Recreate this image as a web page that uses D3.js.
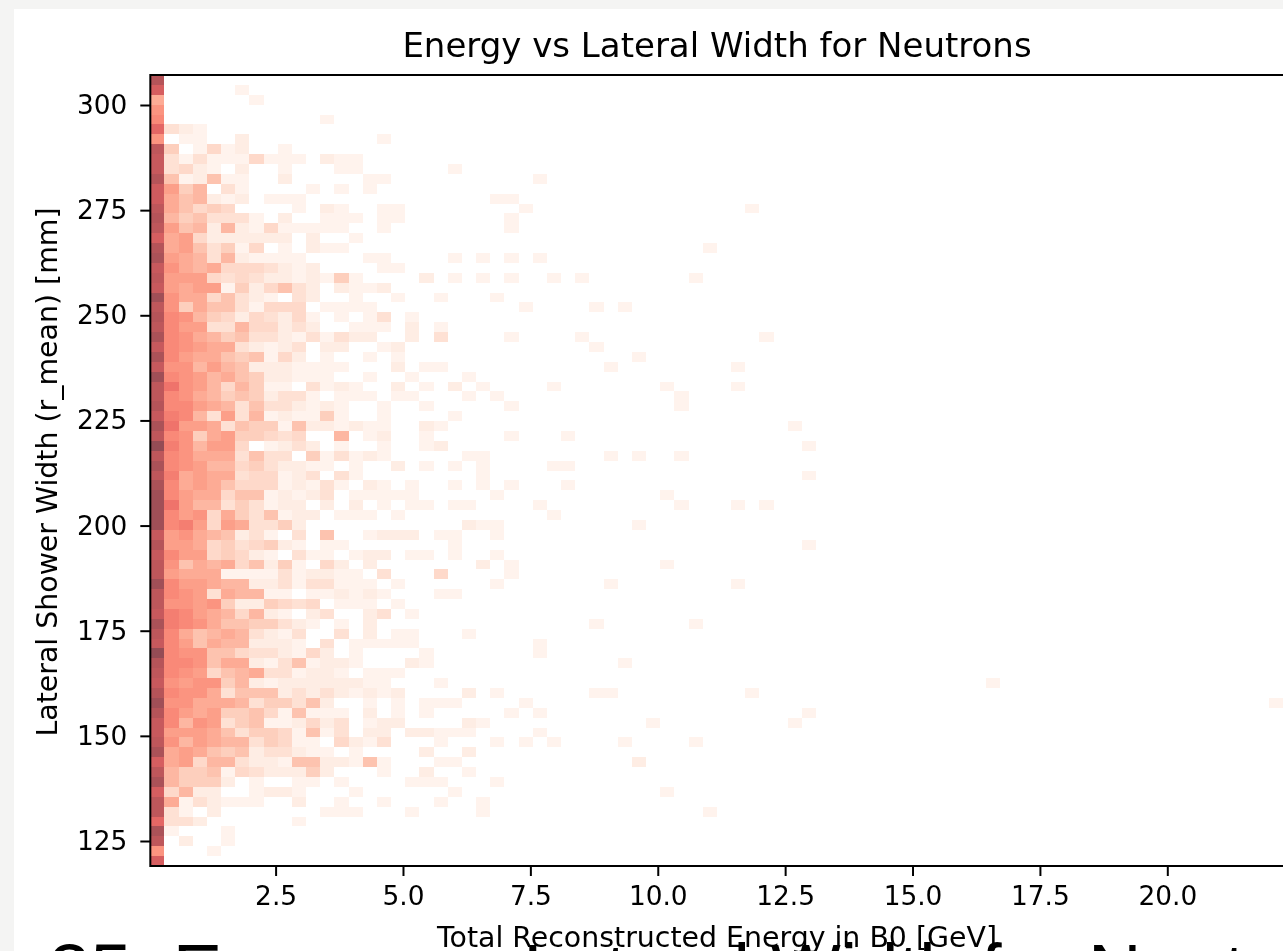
<!DOCTYPE html>
<html>
<head>
<meta charset="utf-8">
<title>Energy vs Lateral Width for Neutrons</title>
<script src="https://d3js.org/d3.v7.min.js"></script>
<style>
    html, body { margin: 0; padding: 0; overflow: hidden; background: #f4f4f3; }
    svg { display: block; }
    text { font-family: "DejaVu Sans", sans-serif; fill: #000; }
</style>
</head>
<body>
<div id="chart-container"></div>
<script>
// bin edges of the histogram, lower edge of first bin and bin size
const energyStart = 0.0412;
const energyBinSize = 0.278;
const widthTop = 307.13;
const widthBinSize = 2.351;

// count to position on the colour ramp
const countStops = [0, 1, 2, 5, 10, 14, 25];
const rampStops = [0, 0.04, 0.09, 0.2, 0.46, 0.64, 1];

const xTicks = [2.5, 5, 7.5, 10, 12.5, 15, 17.5, 20];
const yTicks = [125, 150, 175, 200, 225, 250, 275, 300];

// counts per row (top row first), columns 0 to 20, trailing zeros left out
const rowCounts = [
    [22],
    [18,0,0,0,0,0,1],
    [9,0,0,0,0,0,0,1],
    [11],
    [12,0,0,0,0,0,0,0,0,0,0,0,1],
    [16,4,2,1],
    [11,0,1,1,0,0,2,0,0,0,0,0,0,0,0,0,1],
    [21,6,0,1,5,1,2,0,0,1],
    [20,4,1,4,1,1,1,5,1,1,1,0,2,1,1],
    [20,4,5,2,1,0,2,0,0,1,0,0,0,1,1],
    [22,7,1,2,7,1,1,0,0,2,0,0,0,0,0,1,1],
    [19,10,6,8,0,4,1,0,0,0,0,1,0,1,0,1],
    [19,9,7,8,2,1,2,0,1,1,1],
    [21,9,7,5,6,5,0,0,0,0,1,0,2,1,0,0,1,1],
    [22,8,6,7,4,4,4,1,0,2,0,0,1,1,1,0,1,1],
    [21,10,7,8,2,8,2,1,5,1,1,1,1,1,0,0,1],
    [18,9,10,5,2,2,2,2,2,2,0,2,0,0,1],
    [22,9,10,7,4,6,1,5,0,1,0,2,1,1],
    [23,10,9,8,4,8,2,1,1,1,1,0,0,0,0,1,1],
    [20,11,9,8,9,5,5,5,4,2,1,2,0,0,0,0,1,1],
    [21,10,10,10,5,4,5,4,2,2,1,2,1,6,1,0,0,0,0,2],
    [20,10,9,10,10,1,6,2,5,7,4,2,0,2,1,1,2],
    [24,11,9,9,5,7,4,2,1,0,4,2,0,0,1,0,0,1,0,0,1],
    [21,11,6,9,7,7,4,1,5,5,5,0,1,1,1,1],
    [22,12,11,8,6,5,2,5,4,2,5,1,0,1,0,1,4,0,1],
    [21,12,10,10,4,4,8,5,5,2,4,2,0,0,1,1,1,0,2,0,1],
    [23,12,11,9,8,6,7,4,4,2,1,4,1,4,2,2,0,0,2,0,4],
    [20,12,11,10,9,9,4,2,1,2,4,0,2,2,0,0,1,2],
    [23,12,10,9,9,7,6,7,1,5,2,0,1,0,0,1,0,1],
    [20,11,11,8,10,8,7,2,2,2,1,1,1,1,0,0,0,2,0,1,1],
    [24,12,11,10,8,9,7,6,2,2,1,1,1,0,0,1,0,0,1],
    [21,14,11,10,8,5,8,6,1,1,0,4,1,2,1,0,0,2,0,1],
    [21,12,11,9,8,6,7,6,2,4,4,1,0,1,1,1,0,1,1],
    [22,12,12,10,9,8,4,7,4,4,2,1,2,1,0,0,1,0,0,1],
    [20,13,12,8,4,10,4,8,1,2,1,1,6,1,0,0,1],
    [23,14,10,10,9,4,7,6,6,1,7,2,2,1,2,1,1,0,0,2,1],
    [21,12,11,6,9,10,6,6,5,4,5,0,0,8,0,1,2,0,0,1],
    [25,13,11,8,10,10,5,0,1,2,4,2,0,1,0,0,1,0,0,1,2],
    [21,12,11,9,9,9,4,7,4,4,0,6,1,4,1,2,1],
    [23,12,11,10,8,8,5,6,4,2,2,1,1,0,1,0,0,2,0,1],
    [21,13,9,10,9,9,4,5,5,1,2,4,0,4,1],
    [23,12,9,10,9,7,5,5,5,1,2,1,4,1,0,2,1,0,1],
    [24,12,10,9,9,5,7,7,1,2,1,2,4,0,1,1,1,1,1],
    [24,14,10,8,8,4,6,4,1,2,2,0,2,0,2,0,1,0,1,1],
    [24,12,10,11,5,9,6,4,7,1,2,2,0,1,1,1,0,1],
    [24,12,13,10,5,10,9,4,4,6,2],
    [20,10,11,9,8,7,2,4,1,0,4,0,7,0,0,1,2,2,2,0,1],
    [22,10,10,9,5,6,4,5,6,2,1,0,1,1],
    [20,12,10,10,5,6,5,2,1,0,4,1,1,0,1,2,2,0,1,1],
    [21,11,7,9,8,9,5,7,2,6,1,0,5,2,0,2],
    [21,10,9,9,9,1,1,1,1,4,1,2,2,1,1,0,4,0,0,0,5],
    [24,12,10,10,9,8,8,2,2,4,1,4,4,1,1,1,0,1],
    [21,12,11,10,4,9,8,8,1,1,0,1,1,2,1,2,1,0,0,0,1],
    [21,11,11,10,11,6,2,2,6,5,4,5,0,1,1,1,0,1],
    [20,13,12,10,9,8,5,8,2,1,0,2,4,0,0,2,4,0,1],
    [23,13,12,11,9,7,7,6,6,4,2,1,0,1,0,2],
    [21,12,9,7,8,9,8,4,2,1,4,0,0,4,0,2,0,1,1],
    [20,12,10,7,9,8,8,2,2,2,1,0,4,0,1,1,1,1,1],
    [25,12,11,11,7,7,5,4,4,2,1,5,2,0,1,0,0,0,0,1],
    [22,12,12,11,7,9,9,2,1,4,7,1,2,2,1,0,0,0,2,1],
    [21,12,11,10,5,7,8,9,4,4,1,2,2,1,0,1,1,1],
    [20,11,10,11,11,6,8,2,1,2,2,2,2,2,2,1,1,0,0,0,1],
    [22,12,11,11,9,4,7,7,7,2,4,2,4,2,1,2,1,2],
    [24,11,11,9,9,9,8,4,6,6,4,7,2,0,0,1,0,1,0,1,1],
    [22,12,10,9,10,6,6,7,5,1,7,1,1,1,0,2,0,1,0,1],
    [20,12,8,11,10,4,6,7,1,1,2,5,2,4,0,1,2,2],
    [20,10,10,10,9,7,4,6,6,5,1,7,1,4,0,2,2,0,2,2,1],
    [21,11,8,10,9,8,8,4,6,5,1,1,0,5,2,1,4,0,0,0,1],
    [23,9,10,9,7,6,7,2,4,4,2,1,1,0,1,0,0,0,0,2],
    [18,9,10,5,8,8,4,2,2,1,7,7,2,2,1,7,1,0,0,0,1],
    [21,8,6,6,7,1,5,4,2,2,2,6,2,0,0,0,1,0,0,2],
    [23,8,6,6,6,2,0,1,0,0,1,1,0,1,0,0,0,0,1,1,1],
    [18,5,8,2,2,0,0,1,2,2,1,0,0,0,1],
    [21,9,1,4,2,1,1,1,0,0,2,0,0,1,0,0,1,0,0,0,1],
    [21,4,1,0,2,0,0,0,0,0,0,0,1,1,1,0,0,0,1],
    [16,4,4,2,0,0,0,0,0,0,1],
    [23,1,0,0,0,1],
    [21,0,2,0,0,1],
    [11,0,0,0,1],
    [18]
];

// the thin tail past column 20, as [column, row, count]
const tailCells = [
    [21,9,1],[27,10,1],[24,12,1],[25,12,1],[26,13,1],[42,13,1],[25,14,1],[25,15,1],[39,17,1],
    [21,18,1],[23,18,1],[25,18,1],[27,18,1],[21,20,1],[23,20,1],[25,20,1],[28,20,1],[30,20,1],[38,20,1],
    [24,22,1],[26,23,1],[31,23,1],[33,23,1],[25,26,1],[30,26,1],[43,26,1],[31,27,1],[34,28,1],
    [32,29,1],[41,29,1],[22,30,1],[21,31,2],[23,31,1],[28,31,1],[36,31,1],[41,31,1],
    [22,32,1],[24,32,1],[37,32,1],[25,33,1],[37,33,1],[21,34,1],[45,35,1],[25,36,1],[29,36,1],[46,37,1],
    [22,38,1],[23,38,1],[32,38,1],[34,38,1],[37,38,1],[21,39,1],[23,39,1],[28,39,1],[29,39,1],
    [23,40,1],[46,40,1],[21,41,1],[23,41,1],[25,41,1],[29,41,1],[24,42,1],[36,42,1],
    [21,43,1],[22,43,1],[27,43,1],[37,43,1],[41,43,1],[43,43,1],[28,44,1],
    [22,45,2],[23,45,1],[24,45,1],[34,45,1],[21,46,1],[24,46,1],[21,47,1],[46,47,1],[21,48,1],[24,48,1],
    [23,49,2],[25,49,1],[36,49,1],[25,50,1],[24,51,1],[32,51,1],[41,51,1],[21,52,1],
    [31,55,1],[38,55,1],[22,56,1],[27,57,1],[27,58,1],[33,59,1],[59,61,1],
    [22,62,2],[24,62,1],[31,62,1],[32,62,1],[42,62,1],[21,63,1],[26,63,1],[79,63,1],
    [25,64,1],[27,64,1],[46,64,1],[22,65,2],[23,65,1],[35,65,1],[45,65,1],[21,66,1],[22,66,1],[27,66,1],
    [24,67,1],[26,67,1],[28,67,1],[33,67,1],[38,67,1],[22,68,2],[21,69,1],[34,69,2],[22,70,1],[24,71,1],
    [21,72,1],[36,72,1],[23,73,1],[23,74,1],[39,74,1]
];

const width = 1283;
const height = 951;

const cells = [];
rowCounts.forEach((row, r) => row.forEach((n, k) => {
    if (n > 0) cells.push({ k: k, r: r, n: n });
}));
tailCells.forEach(d => cells.push({ k: d[0], r: d[1], n: d[2] }));

// scales run past the window on the right, like the cropped original
const x = d3.scaleLinear()
    .domain([2.5, 20])
    .range([275.6, 1167.3]);

const y = d3.scaleLinear()
    .domain([300, 125])
    .range([105, 841]);

const ramp = d3.scaleLinear().domain(countStops).range(rampStops);
const color = n => d3.interpolateReds(ramp(n));

const xEdge = k => x(energyStart + k * energyBinSize);
const yEdge = r => y(widthTop - r * widthBinSize);

const plotLeft = xEdge(0);
const plotTop = yEdge(0);
const plotBottom = yEdge(rowCounts.length);

const svg = d3.select("#chart-container").append("svg")
    .attr("width", width)
    .attr("height", height)
    .attr("viewBox", `0 0 ${width} ${height}`);

// white sheet on the grey page
svg.append("rect")
    .attr("x", 14)
    .attr("y", 9)
    .attr("width", width - 14)
    .attr("height", height - 9)
    .attr("fill", "#fff");

// big heading of the page under the figure, cut off by the window
svg.append("text")
    .attr("x", 49)
    .attr("y", 996)
    .style("font-family", "'Liberation Sans', Arial, sans-serif")
    .style("font-size", "74.2px")
    .style("fill", "#000")
    .text("35. Energy vs Lateral Width for Neutrons");

const chart = svg.append("g").style("filter", "blur(0.7px)");

chart.append("g")
    .attr("shape-rendering", "crispEdges")
    .selectAll("rect")
    .data(cells)
    .join("rect")
    .attr("x", d => xEdge(d.k))
    .attr("y", d => yEdge(d.r))
    .attr("width", d => xEdge(d.k + 1) - xEdge(d.k))
    .attr("height", d => yEdge(d.r + 1) - yEdge(d.r))
    .attr("fill", d => color(d.n))
    .attr("fill-opacity", 0.7);

const xAxis = chart.append("g")
    .attr("transform", `translate(0,${plotBottom})`)
    .call(d3.axisBottom(x).tickValues(xTicks).tickFormat(d3.format(".1f")).tickSize(10).tickPadding(10))
    .call(g => g.select(".domain").remove());

const yAxis = chart.append("g")
    .attr("transform", `translate(${plotLeft},0)`)
    .call(d3.axisLeft(y).tickValues(yTicks).tickSize(10).tickPadding(13))
    .call(g => g.select(".domain").remove());

[xAxis, yAxis].forEach(g => {
    g.selectAll("line").attr("stroke", "#000").attr("stroke-width", 2);
    g.selectAll("text").style("font-size", "26.4px").style("font-family", "'DejaVu Sans', sans-serif").style("fill", "#000");
});

// spines, only left, top and bottom are inside the window
chart.append("path")
    .attr("d", `M${width + 5},${plotTop}H${plotLeft}V${plotBottom}H${width + 5}`)
    .attr("fill", "none")
    .attr("stroke", "#000")
    .attr("stroke-width", 2);

chart.append("text")
    .attr("x", 717)
    .attr("y", 57)
    .attr("text-anchor", "middle")
    .style("font-size", "34px")
    .text("Energy vs Lateral Width for Neutrons");

chart.append("text")
    .attr("x", 717)
    .attr("y", 947)
    .attr("text-anchor", "middle")
    .style("font-size", "28.4px")
    .text("Total Reconstructed Energy in B0 [GeV]");

chart.append("text")
    .attr("transform", "translate(57,472) rotate(-90)")
    .attr("text-anchor", "middle")
    .style("font-size", "28.4px")
    .text("Lateral Shower Width (r_mean) [mm]");
</script>
</body>
</html>
